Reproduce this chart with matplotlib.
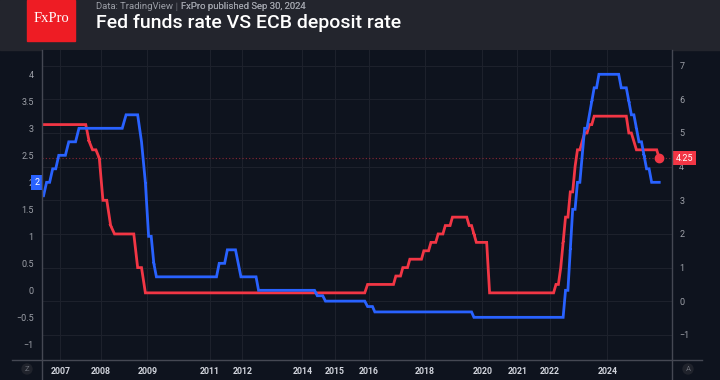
import matplotlib.pyplot as plt
import numpy as np
from matplotlib.lines import Line2D
from matplotlib.patches import Rectangle
from matplotlib.transforms import blended_transform_factory

# Fed funds target (upper bound), % : month of change -> new rate
fed_months = ['2006-07', '2007-09', '2007-10', '2007-12', '2008-01', '2008-03', '2008-04',
              '2008-10', '2008-12', '2015-12', '2016-12', '2017-03', '2017-06', '2017-12',
              '2018-03', '2018-06', '2018-09', '2018-12', '2019-07', '2019-09', '2019-10',
              '2020-03', '2022-03', '2022-05', '2022-06', '2022-07', '2022-09', '2022-11',
              '2022-12', '2023-02', '2023-03', '2023-05', '2023-07', '2024-09', '2024-11',
              '2024-12', '2025-09']
fed_rates = [5.25, 4.75, 4.5, 4.25, 3.0, 2.25, 2.0, 1.0, 0.25, 0.5, 0.75, 1.0, 1.25, 1.5,
             1.75, 2.0, 2.25, 2.5, 2.25, 2.0, 1.75, 0.25, 0.5, 1.0, 1.75, 2.5, 3.25, 4.0,
             4.5, 4.75, 5.0, 5.25, 5.5, 5.0, 4.75, 4.5, 4.25]

# ECB deposit facility rate, %
ecb_months = ['2006-07', '2006-08', '2006-10', '2006-12', '2007-03', '2007-06', '2008-07',
              '2008-11', '2008-12', '2009-01', '2009-03', '2009-04', '2011-04', '2011-07',
              '2011-11', '2011-12', '2012-07', '2014-06', '2014-09', '2015-12', '2016-03',
              '2019-09', '2022-07', '2022-09', '2022-10', '2022-12', '2023-02', '2023-03',
              '2023-05', '2023-06', '2023-07', '2023-09', '2024-06', '2024-09', '2024-10',
              '2024-12', '2025-01', '2025-03', '2025-04', '2025-06']
ecb_rates = [1.75, 2.0, 2.25, 2.5, 2.75, 3.0, 3.25, 2.75, 2.0, 1.0, 0.5, 0.25, 0.5, 0.75,
             0.5, 0.25, 0.0, -0.1, -0.2, -0.3, -0.4, -0.5, 0.0, 0.75, 1.5, 2.0, 2.5, 3.0,
             3.25, 3.5, 3.75, 4.0, 3.75, 3.5, 3.25, 3.0, 2.75, 2.5, 2.25, 2.0]
last_month = '2025-09'

year_labels = ['2007', '2008', '2009', '2011', '2012', '2014', '2015', '2016', '2018',
               '2020', '2021', '2022', '2024']


def to_year(m):
    y, mo = m.split('-')
    return int(y) + (int(mo) - 1) / 12


def step_line(months, rates, end):
    # each change drawn as a one-month ramp, like the monthly chart
    xs, ys = [], []
    for i, (m, r) in enumerate(zip(months, rates)):
        t = to_year(m)
        if i == 0:
            xs.append(t); ys.append(r)
        else:
            xs += [t - 1 / 24, t + 1 / 24]; ys += [rates[i - 1], r]
    xs.append(to_year(end) + 1 / 24); ys.append(rates[-1])
    return np.array(xs), np.array(ys)


# uneven time axis of the original chart
anchor_years = [2006, 2007, 2008, 2009, 2011, 2012, 2014, 2015, 2016, 2018, 2020, 2021, 2022, 2024, 2027]
anchor_pos = [23.7, 60.3, 101, 147.3, 209.7, 242.3, 302.3, 335, 369, 425, 482.3, 517.3, 550, 607.3, 698.5]


def fwd(x):
    return np.interp(x, anchor_years, anchor_pos)


def inv(p):
    return np.interp(p, anchor_pos, anchor_years)


BG = '#0e131e'
HEAD = '#23252d'
BLUE = '#2962ff'
RED = '#f23645'
GRID = '#1d212c'
AXLINE = '#454853'
TXT = '#9da0a8'

plt.rcParams['font.family'] = ['Roboto', 'DejaVu Sans']

fig = plt.figure(figsize=(7.2, 3.8), dpi=100, facecolor=BG)
W, H = 720, 380
ax2 = fig.add_axes([42 / W, 20 / H, 630.3 / W, 310 / H])
ax = ax2.twinx()
ax.yaxis.tick_left()
ax.yaxis.set_label_position('left')
ax2.yaxis.tick_right()
ax2.set_facecolor(BG)
ax.patch.set_visible(False)

for a in (ax, ax2):
    a.set_xscale('function', functions=(fwd, inv))
    a.set_xlim(inv(42), inv(672.3))
    for s in a.spines.values():
        s.set_visible(False)

ax.set_ylim(-1.29, 4.45)
ax2.set_ylim(-1.745, 7.466)

yl = np.arange(-1, 4.01, 0.5)
ax.set_yticks(yl)
ax.set_yticklabels([f'{v:g}'.replace('-', '\u2212') for v in yl])
yr = np.arange(-1, 8)
ax2.set_yticks(yr)
ax2.set_yticklabels([f'{v:g}'.replace('-', '\u2212') for v in yr])
ax.tick_params(axis='y', length=0, pad=6, labelsize=6.5, labelcolor=TXT)
ax2.tick_params(axis='y', length=0, pad=5, labelsize=6.5, labelcolor=TXT)
ax2.yaxis.grid(True, color=GRID, lw=0.8)

years = [int(y) for y in year_labels]
ax2.set_xticks(years)
ax2.set_xticklabels(year_labels, fontweight='bold')
ax2.tick_params(axis='x', length=0, pad=5, labelsize=6.3, labelcolor='#d1d4dc')
ax2.xaxis.grid(True, color=GRID, lw=0.8)
ax.tick_params(axis='x', bottom=False, labelbottom=False)

fx, fy = step_line(fed_months, fed_rates, last_month)
ex, ey = step_line(ecb_months, ecb_rates, last_month)
ax2.axhline(fed_rates[-1], color=RED, lw=0.8, ls=(0, (1, 2)), alpha=0.55)
ax2.plot(fx, fy, color=RED, lw=2.0, solid_joinstyle='miter')
ax2.plot(fx[-1], fy[-1], 'o', color=RED, ms=6)
ax.plot(ex, ey, color=BLUE, lw=2.0, solid_joinstyle='miter')

# last value tags on the axes
tl = blended_transform_factory(ax.transAxes, ax.transData)
ax.text(-0.004, ecb_rates[-1], str(ecb_rates[-1]).rstrip('0').rstrip('.'), transform=tl,
        ha='right', va='center', color='white', fontsize=6.5, clip_on=False,
        bbox=dict(boxstyle='square,pad=0.35', fc=BLUE, ec='none'))
tr = blended_transform_factory(ax2.transAxes, ax2.transData)
ax2.text(1.006, fed_rates[-1], f'{fed_rates[-1]:.2f}', transform=tr,
         ha='left', va='center', color='white', fontsize=6.5, clip_on=False,
         bbox=dict(boxstyle='square,pad=0.3', fc=RED, ec='none'))

# frame lines
fig.add_artist(Line2D([42 / W, 42 / W], [0, 330 / H], color=AXLINE, lw=1))
fig.add_artist(Line2D([672.3 / W, 672.3 / W], [0, 330 / H], color=AXLINE, lw=1))
fig.add_artist(Line2D([12 / W, 702 / W], [20 / H, 20 / H], color=AXLINE, lw=1))
fig.text(27 / W, 11 / H, 'Z', ha='center', va='center', fontsize=5.5, color='#6a6d76',
         bbox=dict(boxstyle='circle,pad=0.35', fc='#20232c', ec='none'))
fig.text(688 / W, 11 / H, 'A', ha='center', va='center', fontsize=5.5, color='#6a6d76',
         bbox=dict(boxstyle='circle,pad=0.35', fc='#20232c', ec='none'))

# header
fig.add_artist(Rectangle((0, 330 / H), 1, 50 / H, transform=fig.transFigure, color=HEAD, zorder=0))
fig.add_artist(Rectangle((27 / W, 339 / H), 48 / W, 41 / H, transform=fig.transFigure,
                         color='#ee1c24', zorder=1))
fig.text(51 / W, 1 - 19 / H, 'FxPro', ha='center', va='center', color='white',
         fontsize=10.5, family='Liberation Serif')
sub = fig.text(96 / W, 1 - 6.5 / H, 'Data: TradingView', ha='left', va='center',
               color=TXT, fontsize=6.8)
sep = plt.annotate(' \u2502 ', xy=(1, 0.5), xycoords=sub, va='center', ha='left',
                   color='#5d6068', fontsize=5)
fig.add_artist(sep)
sub2 = plt.annotate('FxPro published Sep 30, 2024', xy=(1, 0.5), xycoords=sep, va='center',
                    ha='left', color=TXT, fontsize=6.8)
fig.add_artist(sub2)
fig.text(96 / W, 1 - 23.5 / H, 'Fed funds rate VS ECB deposit rate', ha='left', va='center',
         color='white', fontsize=14, fontweight=500)

fig.savefig('out.png', dpi=100, facecolor=BG)
